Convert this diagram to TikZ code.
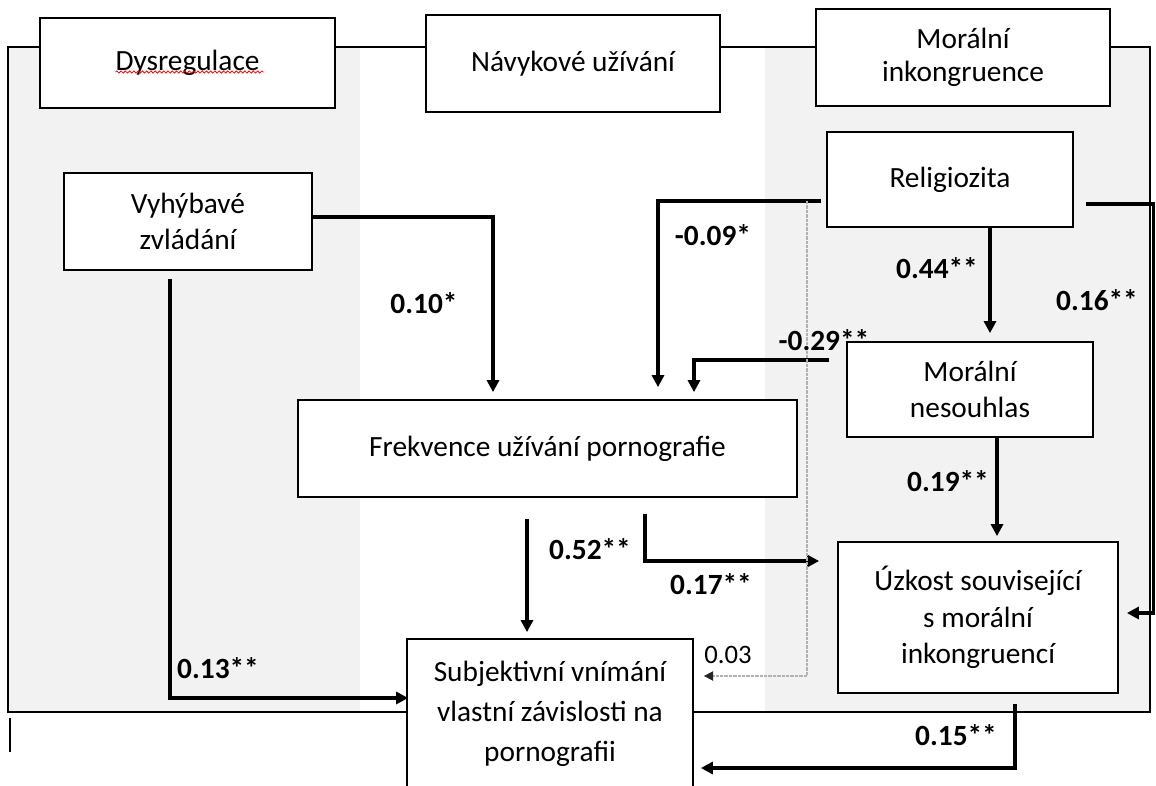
\documentclass[tikz,border=0pt]{standalone}
\usepackage{fontspec}
\setmainfont{Carlito}
\usetikzlibrary{arrows.meta,calc,decorations.pathmorphing}
\begin{document}
\begin{tikzpicture}[x=0.75pt,y=-0.75pt,
  box/.style={draw, line width=1.3pt, fill=white, align=center, inner sep=0pt,
    font=\fontsize{22}{27.5}\selectfont},
  arr/.style={line width=2.4pt, -{Triangle[length=9pt,width=9pt]}},
  dotarr/.style={line width=1.1pt, gray!60, dash pattern=on 2.5pt off 0.8pt,
    -{Triangle[length=7pt,width=7pt,color=black!85]}},
  lab/.style={font=\fontsize{22}{26}\selectfont\bfseries, inner sep=0pt},
  labr/.style={font=\fontsize{20}{24}\selectfont, inner sep=0pt},
]
\useasboundingbox (0,0) rectangle (1156,785);
\clip (0,0) rectangle (1156,785);
% panels
\fill[black!5] (8,47) rectangle (360,712);
\fill[black!5] (765,47) rectangle (1150,712);
\draw[line width=1.1pt] (8,47) rectangle (1150,712);
\draw[line width=0.8pt] (10,718) -- (10,752);

% header boxes
\node[box, minimum width=221.25pt, minimum height=67.5pt] (dys) at (187.5,63) {\raisebox{2pt}{Dysregulace}};
\node[box, minimum width=220.5pt, minimum height=72.75pt] (nav) at (573,63.5) {Návykové užívání};
\node[box, minimum width=220.5pt, minimum height=72.75pt, font=\fontsize{22}{25}\selectfont] (mor) at (963,57.5) {Morální\\inkongruence};
\draw[red, line width=0.6pt, decorate, decoration={snake, amplitude=0.8pt, segment length=3.2pt}]
  ($(dys.center)+(-72,9)$) -- ($(dys.center)+(76,9)$);

% variable boxes
\node[box, minimum width=186pt, minimum height=72.75pt] (vz) at (188,221.5) {Vyhýbavé\\zvládání};
\node[box, minimum width=184.5pt, minimum height=71.25pt] (rel) at (950,179.5) {Religiozita};
\node[box, minimum width=184.5pt, minimum height=71.25pt] (mn) at (970,389.5) {Morální\\nesouhlas};
\node[box, minimum width=374.25pt, minimum height=72.75pt] (fr) at (547.5,448.5) {Frekvence užívání pornografie};
\node[box, minimum width=210pt, minimum height=113.25pt] (uz) at (978,617.5) {Úzkost související\\s morální\\inkongruencí};
\node[box, minimum width=214.5pt, minimum height=112.5pt, font=\fontsize{22}{30}\selectfont] (subj) at (550,714) {Subjektivní vnímání\\vlastní závislosti na\\pornografii};

% connectors
\draw[arr] ($(vz.east)+(0,-4.5)$) -| ($(fr.north)+(-54.5,-7)$);
\draw[arr] ($(vz.south)+(-18,8)$) |- ($(subj.west)+(2,-16)$);
\draw[arr] ($(rel.west)+(-5,21.5)$) -| ($(fr.north)+(110.5,-12)$);
\draw[arr] ($(mn.west)+(-17,-29.5)$) -| ($(fr.north)+(146.5,-7)$);
\draw[arr] ($(rel.south)+(40,0)$) -- ($(mn.north)+(20,-8)$);
\draw[arr] ($(mn.south)+(27,0)$) -- ($(uz.north)+(19,-5)$);
\draw[arr] ($(rel.east)+(12,24.5)$) -- ++(68,0) |- ($(uz.east)+(8,-4.5)$);
\draw[arr] ($(fr.south)+(-20.5,21)$) -- ($(subj.north)+(-23,-6)$);
\draw[arr] ($(fr.south)+(97.5,16)$) |- ($(uz.west)+(-18,-56.5)$);
\draw[dotarr] ($(rel.west)+(-19,21.5)$) |- ($(subj.east)+(10,-38)$);
\draw[arr] ($(uz.south)+(37,10)$) |- ($(subj.east)+(7,54)$);

% labels
\node[lab] (l1) at (424,303) {0.10*};
\node[lab] (l2) at (218,668) {0.13**};
\node[lab] (l3) at (713,235) {-0.09*};
\node[lab] (l4) at (824,340) {-0.29**};
\node[lab] (l5) at (937,268) {0.44**};
\node[lab] (l6) at (948,481) {0.19**};
\node[lab] (l7) at (1097,300) {0.16**};
\node[lab] (l8) at (590,549) {0.52**};
\node[lab] (l9) at (711,584) {0.17**};
\node[labr] (l10) at (728,655) {0.03};
\node[lab] (l11) at (956,735) {0.15**};
\end{tikzpicture}
\end{document}
